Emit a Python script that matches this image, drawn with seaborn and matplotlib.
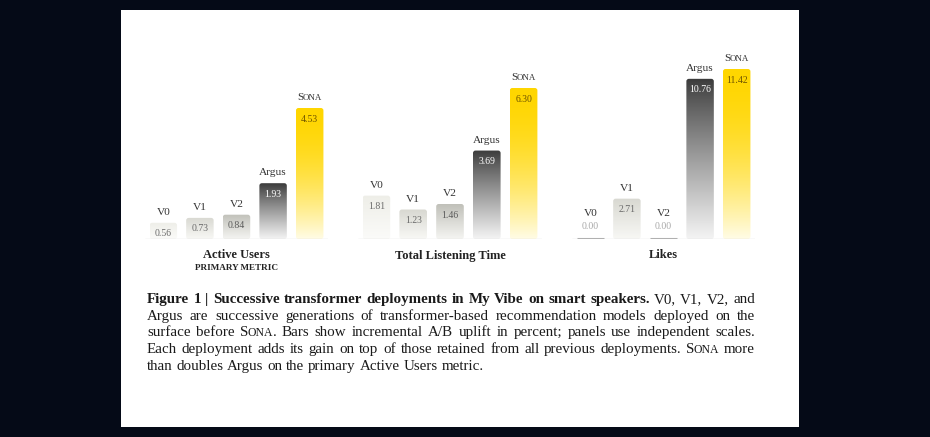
import numpy as np
import pandas as pd
import matplotlib
matplotlib.use("Agg")
import matplotlib.pyplot as plt
import seaborn as sns
from matplotlib.colors import to_rgb
from matplotlib.patches import Rectangle, FancyBboxPatch
from matplotlib.transforms import IdentityTransform

# ---------------- data ----------------
models = ["V0", "V1", "V2", "Argus", "Sona"]
active_users = [0.56, 0.73, 0.84, 1.93, 4.53]
listening_time = [1.81, 1.23, 1.46, 3.69, 6.30]
likes = [0.00, 2.71, 0.00, 10.76, 11.42]
panel_values = [active_users, listening_time, likes]
panel_titles = ["Active Users", "Total Listening Time", "Likes"]
panel_subtitles = ["PRIMARY METRIC", "", ""]
smallcaps_models = ["Sona"]

caption_lines = [
    "**Figure 1 | Successive transformer deployments in My Vibe on smart speakers.** V0, V1, V2, and",
    "Argus are successive generations of transformer-based recommendation models deployed on the",
    "surface before ^Sona^. Bars show incremental A/B uplift in percent; panels use independent scales.",
    "Each deployment adds its gain on top of those retained from all previous deployments. ^Sona^ more",
    "than doubles Argus on the primary Active Users metric.",
]

# ---------------- style ----------------
top_colors = ["#eeeee8", "#d8d8d1", "#c0c0b9", "#3a3a3a", "#ffd600"]
bottom_colors = ["#fbfbf9", "#f8f8f5", "#f5f5f2", "#f4f4f4", "#fffce6"]
grad_power = [1.0, 1.0, 1.0, 0.9, 1.8]
value_colors = ["#6a6a6a", "#6a6a6a", "#5a5a5a", "#ffffff", "#6e5400"]
zero_value_color = "#a8a8a8"
name_color = "#333333"
page_bg = "#050a17"

sns.set_theme(style="white")
FAM = ["Liberation Serif", "DejaVu Serif"]
plt.rcParams["font.family"] = FAM

W, H = 930, 437
fig = plt.figure(figsize=(W / 100, H / 100), dpi=100)
fig.patch.set_facecolor(page_bg)
fig.add_artist(Rectangle((121 / W, 1 - 427 / H), 678 / W, 417 / H,
                         transform=fig.transFigure, facecolor="white",
                         edgecolor="none", zorder=0))
renderer = fig.canvas.get_renderer()
ID = IdentityTransform()


def _raw_width(s, size, weight):
    t = fig.text(0, 0, s, fontsize=size, fontweight=weight, family=FAM)
    w = t.get_window_extent(renderer).width
    t.remove()
    return w


def text_width(s, size, weight="normal"):
    """advance width of s (including side bearings)"""
    return _raw_width("l" + s + "l", size, weight) - _raw_width("ll", size, weight)


SC_TIGHTEN = 0.8  # px between a large initial and its small capitals


def draw_runs(x_px, y_base_px, runs, color, ha="left"):
    """runs: list of (text, size, weight); y from top of image in pixels"""
    widths = [text_width(s, sz, wt) for s, sz, wt in runs]
    for j in range(len(runs) - 1):
        if runs[j + 1][1] < runs[j][1]:
            widths[j] -= SC_TIGHTEN
    total = sum(widths)
    x = x_px - total / 2 if ha == "center" else x_px
    for (s, sz, wt), w in zip(runs, widths):
        fig.text(x, H - y_base_px, s, fontsize=sz, fontweight=wt, family=FAM,
                 color=color, ha="left", va="baseline", transform=ID)
        x += w
    return total


def model_runs(name, size, weight="normal"):
    if name in smallcaps_models:
        return [(name[0], size, weight), (name[1:].upper(), size * 0.78, weight)]
    return [(name, size, weight)]


def gradient_fill(ax, patch, top, bottom, power):
    x0, y0 = patch.get_x(), patch.get_y()
    w, h = patch.get_width(), patch.get_height()
    t = (np.linspace(0, 1, 256) ** power)[:, None, None]
    c0 = np.array(to_rgb(top))
    c1 = np.array(to_rgb(bottom))
    img = c0 + (c1 - c0) * t
    im = ax.imshow(img, extent=(x0, x0 + w, y0, y0 + h), origin="upper",
                   aspect="auto", zorder=patch.get_zorder(),
                   interpolation="bilinear")
    patch.set_facecolor("none")
    patch.set_edgecolor("none")
    return im


def round_clip(ax, patch, im, radius=2.5):
    (x0d, y0d) = ax.transData.transform((patch.get_x(), patch.get_y()))
    (x1d, y1d) = ax.transData.transform((patch.get_x() + patch.get_width(),
                                          patch.get_y() + patch.get_height()))
    clip = FancyBboxPatch((x0d, y0d), x1d - x0d, y1d - y0d,
                          boxstyle=f"round,pad=0,rounding_size={radius}",
                          transform=ID)
    im.set_clip_path(clip)


axes_left = [145, 358, 572]
axes_width = [183, 184, 183]
base_y, top_y = 239, 50
tallest_px = [131, 151, 170]

NAME_SIZE = 8.2
VALUE_SIZE = 7.0
TITLE_SIZE = 9.0
SUB_SIZE = 6.6

for k, vals in enumerate(panel_values):
    ax = fig.add_axes([axes_left[k] / W, 1 - base_y / H,
                       axes_width[k] / W, (base_y - top_y) / H])
    df = pd.DataFrame({"model": models, "value": vals})
    sns.barplot(data=df, x="model", y="value", hue="model", order=models,
                hue_order=models, palette=top_colors, legend=False,
                saturation=1, width=0.75, ax=ax)
    ymax = max(vals) * (base_y - top_y) / tallest_px[k]
    patches = sorted(ax.patches, key=lambda p: p.get_x())
    images = []
    for i, p in enumerate(patches):
        if p.get_height() > 0:
            images.append((p, gradient_fill(ax, p, top_colors[i],
                                            bottom_colors[i], grad_power[i])))
        else:
            p.set_facecolor("none")
            x0 = p.get_x()
            ax.hlines(0, x0, x0 + p.get_width(), color="#b0b0b0", lw=2.2,
                      zorder=4)
    ax.axhline(0, color="#9a9a9a", lw=0.8, zorder=3)
    ax.set_xlim(-0.5, len(models) - 0.5)
    ax.set_ylim(0, ymax)
    ax.set_axis_off()
    ax.patch.set_alpha(0)
    for p, im in images:
        round_clip(ax, p, im)

    for i, p in enumerate(patches):
        cx = p.get_x() + p.get_width() / 2
        v = vals[i]
        dx, dy = ax.transData.transform((cx, v))
        top_px = H - dy
        if v > 0:
            name_base = top_px - 8
            draw_runs(dx, top_px + 13.5, [(f"{v:.2f}", VALUE_SIZE, "normal")],
                      value_colors[i], ha="center")
        else:
            name_base = top_px - 22.5
            draw_runs(dx, top_px - 10, [(f"{v:.2f}", VALUE_SIZE, "normal")],
                      zero_value_color, ha="center")
        draw_runs(dx, name_base, model_runs(models[i], NAME_SIZE), name_color,
                  ha="center")

    cxp = axes_left[k] + axes_width[k] / 2
    draw_runs(cxp, 258.5, [(panel_titles[k], TITLE_SIZE, "bold")], "#222222",
              ha="center")
    if panel_subtitles[k]:
        draw_runs(cxp, 269.5, [(panel_subtitles[k], SUB_SIZE, "bold")],
                  "#222222", ha="center")

# ---------------- caption ----------------
CAP_SIZE = 10.8
SC = 0.78
cap_left, cap_right = 147, 755
cap_base0, cap_lead = 303, 16.7


def parse_line(line):
    words = []
    bold = False
    for raw in line.split(" "):
        w = raw
        if w.startswith("**"):
            bold = True
            w = w[2:]
        end_bold = w.endswith("**")
        if end_bold:
            w = w[:-2]
        wt = "bold" if bold else "normal"
        frags = []
        for j, part in enumerate(w.split("^")):
            if not part:
                continue
            if j % 2 == 1:
                frags.append((part[0], CAP_SIZE, wt))
                frags.append((part[1:].upper(), CAP_SIZE * SC, wt))
            else:
                frags.append((part, CAP_SIZE, wt))
        words.append((frags, wt))
        if end_bold:
            bold = False
    return words


space_w = {wt: text_width(" ", CAP_SIZE, wt) for wt in ("normal", "bold")}


def word_width(frags):
    ws = [text_width(s, sz, wt) for s, sz, wt in frags]
    for j in range(len(frags) - 1):
        if frags[j + 1][1] < frags[j][1]:
            ws[j] -= SC_TIGHTEN
    return sum(ws)


for li, line in enumerate(caption_lines):
    words = parse_line(line)
    widths = [word_width(fr) for fr, _ in words]
    last = li == len(caption_lines) - 1
    if not last and len(words) > 1:
        gaps = [(cap_right - cap_left - sum(widths)) / (len(words) - 1)] * (len(words) - 1)
    else:
        gaps = [space_w[wt] for _, wt in words[:-1]]
    x = cap_left
    yb = cap_base0 + li * cap_lead
    for wi, (frags, wt) in enumerate(words):
        draw_runs(x, yb, frags, "#1a1a1a")
        x += widths[wi]
        if wi < len(gaps):
            x += gaps[wi]

fig.savefig("out.png", dpi=100, facecolor=fig.get_facecolor())
